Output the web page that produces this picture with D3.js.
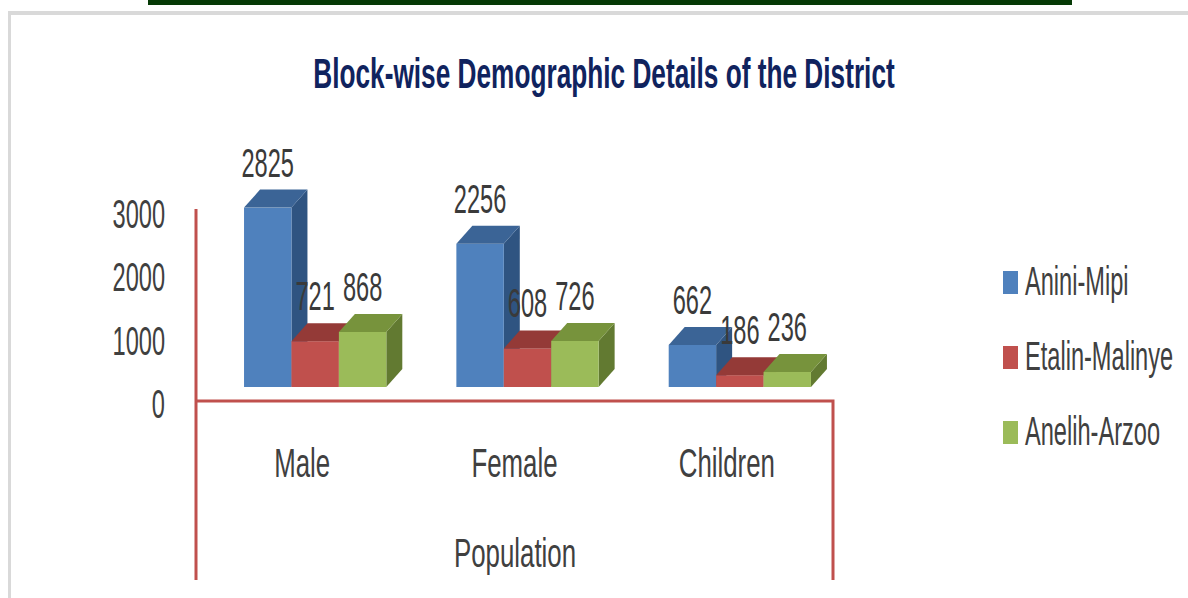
<!DOCTYPE html>
<html><head><meta charset="utf-8">
<script src="https://cdn.jsdelivr.net/npm/d3@7"></script>
<style>html,body{margin:0;padding:0;background:#fff;} svg{display:block;}</style>
</head><body>
<svg id="chart" width="1188" height="598"></svg>
<script>
const chartTitle = "Block-wise Demographic Details of the District";
const categories = ["Male", "Female", "Children"];
const seriesNames = ["Anini-Mipi", "Etalin-Malinye", "Anelih-Arzoo"];
const aniniMipi = [2825, 2256, 662];
const etalinMalinye = [721, 608, 186];
const anelihArzoo = [868, 726, 236];
const yTicks = [0, 1000, 2000, 3000];
const axisTitle = "Population";
const seriesValues = [aniniMipi, etalinMalinye, anelihArzoo];

const FONT = "'Liberation Sans', Arial, sans-serif";
const TXT = "#404040";
const frontC = ["#4f81bd", "#c0504d", "#9bbb59"];
const topC = ["#3b6496", "#943a37", "#77933c"];
const sideC = ["#2f5481", "#7d302e", "#627a31"];
const AXIS = "#c0504d";

const svg = d3.select("#chart");

// page decorations
svg.append("rect").attr("x", 148).attr("y", 0).attr("width", 924).attr("height", 5).attr("fill", "#063a06");
svg.append("rect").attr("x", 8).attr("y", 11).attr("width", 1180).attr("height", 4).attr("fill", "#d9d9d9");
svg.append("rect").attr("x", 8).attr("y", 11).attr("width", 3).attr("height", 587).attr("fill", "#d9d9d9");

// title
svg.append("text").text(chartTitle)
  .attr("transform", "translate(604,88) scale(0.61,1)")
  .attr("text-anchor", "middle").attr("font-family", FONT).attr("font-weight", "bold")
  .attr("font-size", 43).attr("fill", "#10235e");

// scales
const x0 = d3.scaleBand().domain(categories).range([196, 833]).paddingInner(0.33).paddingOuter(0.165);
const x1 = d3.scaleBand().domain(seriesNames).range([0, x0.bandwidth()]);
const y = d3.scaleLinear().domain([0, 3000]).range([387, 196.5]);
const dx = 16, dy = 18, shift = 13;

// axis lines
const floorY = y(0) + 14;
svg.append("path")
  .attr("d", `M196,${y(3000) + 12.5}V580M196,${floorY}H833V580`)
  .attr("fill", "none").attr("stroke", AXIS).attr("stroke-width", 3);

// value axis labels
const gy = svg.append("g").attr("transform", "translate(196,0)")
  .call(d3.axisLeft(y).tickValues(yTicks).tickSize(0).tickPadding(0).tickFormat(d3.format("d")));
gy.select(".domain").remove();
gy.selectAll("text").attr("x", null).attr("dy", null)
  .attr("transform", "translate(-31,30.5) scale(0.59,1)")
  .attr("font-family", FONT).attr("font-size", 40).attr("fill", TXT).attr("text-anchor", "end");

// category axis labels
const gx = svg.append("g").attr("transform", `translate(0,${floorY})`)
  .call(d3.axisBottom(x0).tickSize(0).tickPadding(0));
gx.select(".domain").remove();
gx.selectAll("text").attr("y", null).attr("dy", null)
  .attr("transform", "translate(0,76) scale(0.63,1)")
  .attr("font-family", FONT).attr("font-size", 41).attr("fill", TXT);

// axis title (second level)
svg.append("text").text(axisTitle)
  .attr("transform", `translate(${(x0.range()[0] + x0.range()[1]) / 2 + 0.5},${floorY + 166}) scale(0.63,1)`)
  .attr("text-anchor", "middle").attr("font-family", FONT).attr("font-size", 41).attr("fill", TXT);

// 3D bars
const barsG = svg.append("g");
categories.forEach((cat, ci) => {
  seriesNames.forEach((s, si) => {
    const v = seriesValues[si][ci];
    const xl = x0(cat) + shift + x1(s);
    const w = x1.bandwidth();
    const yt = y(v), yb = y(0);
    const g = barsG.append("g");
    g.append("path").attr("d", `M${xl + w},${yt}L${xl + w + dx},${yt - dy}L${xl + w + dx},${yb - dy}L${xl + w},${yb}Z`).attr("fill", sideC[si]);
    g.append("rect").attr("x", xl).attr("y", yt).attr("width", w).attr("height", yb - yt).attr("fill", frontC[si]);
    g.append("path").attr("d", `M${xl},${yt}L${xl + dx},${yt - dy}L${xl + w + dx},${yt - dy}L${xl + w},${yt}Z`).attr("fill", topC[si]);
  });
});

// data labels
categories.forEach((cat, ci) => {
  seriesNames.forEach((s, si) => {
    const v = seriesValues[si][ci];
    const cx = x0(cat) + shift + x1(s) + x1.bandwidth() / 2;
    svg.append("text").text(v)
      .attr("transform", `translate(${cx},${y(v) - 31}) scale(0.59,1)`)
      .attr("text-anchor", "middle").attr("font-family", FONT).attr("font-size", 40).attr("fill", "#3a3a3a");
  });
});

// legend
const lg = svg.append("g").attr("transform", "translate(1003,271)");
seriesNames.forEach((s, i) => {
  lg.append("rect").attr("x", 0).attr("y", i * 75).attr("width", 15).attr("height", 23).attr("fill", frontC[i]);
  lg.append("text").text(s)
    .attr("transform", `translate(22,${i * 75 + 24}) scale(0.59,1)`)
    .attr("font-family", FONT).attr("font-size", 40).attr("fill", TXT);
});
</script>
</body></html>
